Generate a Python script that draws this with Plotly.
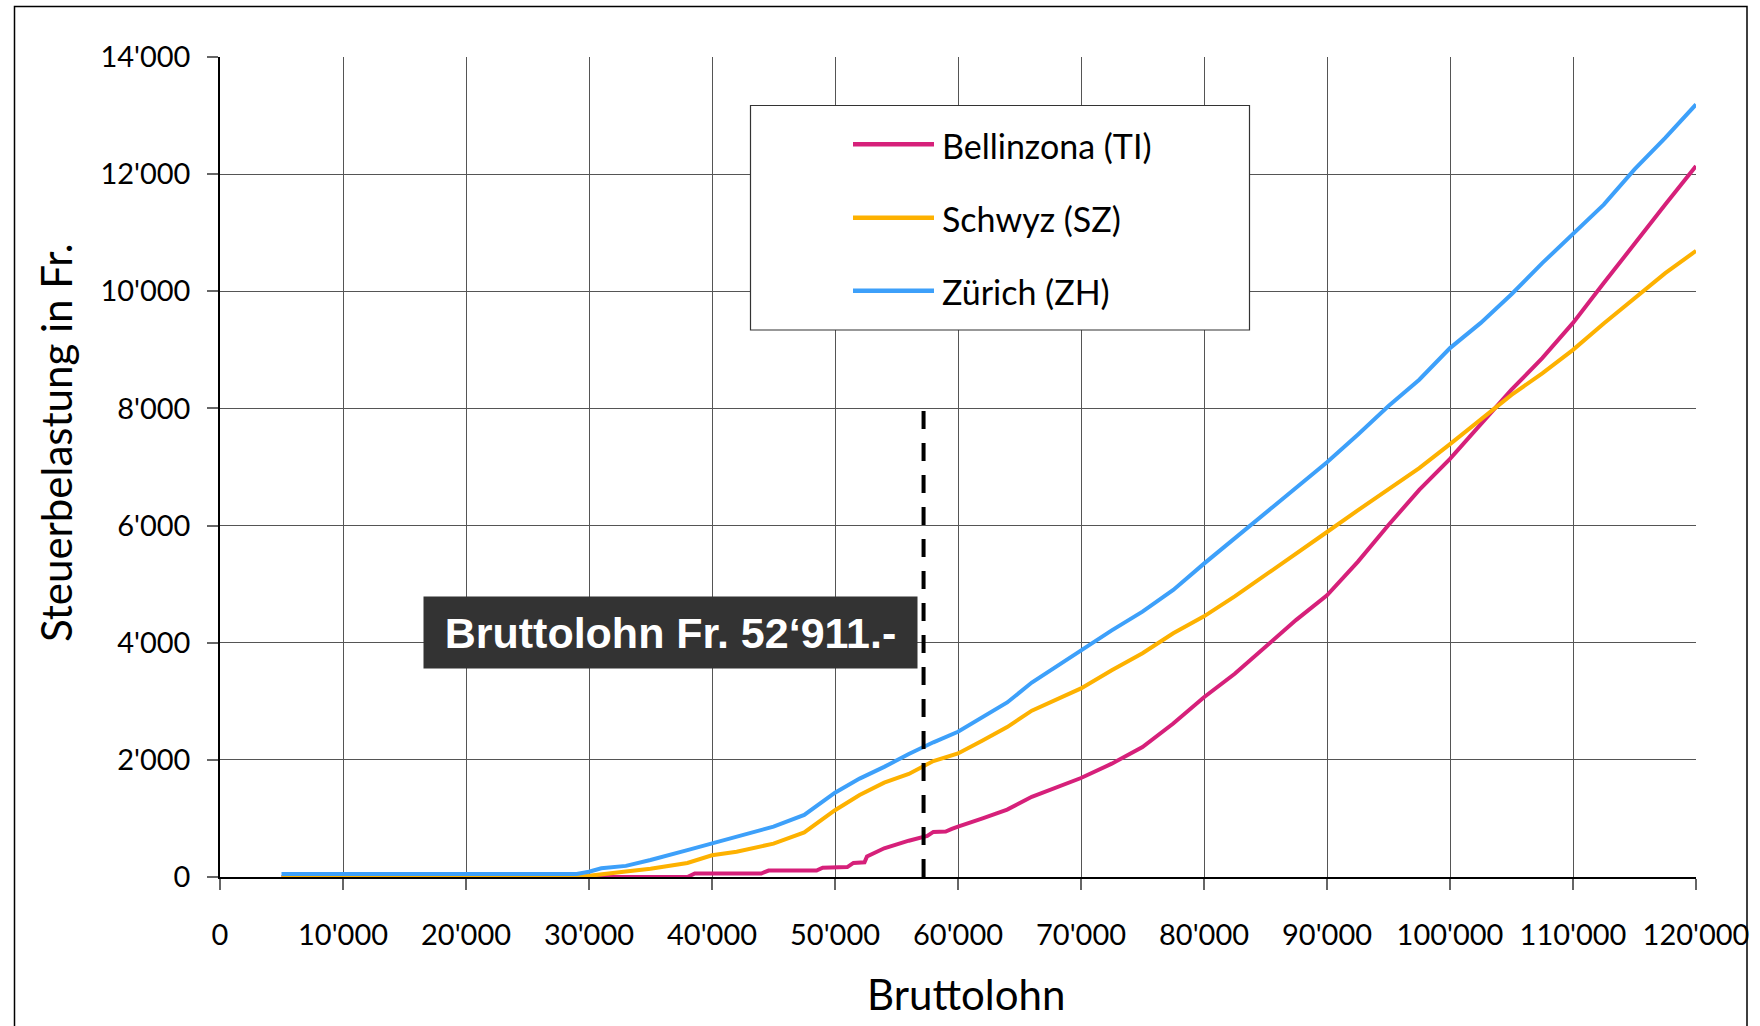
import plotly.graph_objects as go

# ---------------- data ----------------
series_names = ["Bellinzona (TI)", "Schwyz (SZ)", "Zürich (ZH)"]
series_colors = ["#D6207A", "#FDB100", "#3DA0FA"]

income_ti = [5000, 38000, 38600, 44000, 44600, 48500, 49000, 51000, 51500, 52400, 52600,
             54000, 56000, 57500, 58000, 59000, 59500, 60000, 62000, 64000, 66000, 68000,
             70000, 72500, 75000, 77500, 80000, 82500, 85000, 87500, 90000, 92500, 95000,
             97500, 100000, 102500, 105000, 107500, 110000, 112500, 115000, 117500, 120000]
tax_ti = [0, 0, 60, 60, 110, 110, 160, 170, 240, 250, 350,
          490, 620, 700, 770, 775, 820, 860, 1000, 1150, 1370, 1530,
          1690, 1935, 2220, 2620, 3070, 3470, 3930, 4390, 4810, 5380, 6010,
          6610, 7140, 7720, 8320, 8860, 9460, 10140, 10820, 11480, 12140]

income_sz_zh = [5000, 29000, 30000, 31000, 33000, 35000, 38000, 40000, 42000, 45000, 47500,
                50000, 52000, 54000, 56000, 58000, 60000, 62000, 64000, 66000, 68000, 70000,
                72500, 75000, 77500, 80000, 82500, 85000, 87500, 90000, 92500, 95000, 97500,
                100000, 102500, 105000, 107500, 110000, 112500, 115000, 117500, 120000]
tax_sz = [0, 0, 20, 50, 94, 140, 240, 370, 430, 570, 760,
          1140, 1400, 1610, 1760, 1980, 2110, 2330, 2560, 2840, 3030, 3220,
          3530, 3820, 4160, 4450, 4790, 5150, 5520, 5890, 6260, 6610, 6980,
          7390, 7800, 8230, 8600, 9000, 9450, 9880, 10310, 10690]
tax_zh = [50, 50, 90, 150, 190, 290, 460, 570, 690, 860, 1060,
          1440, 1680, 1880, 2100, 2300, 2480, 2730, 2980, 3320, 3600, 3870,
          4210, 4530, 4900, 5350, 5780, 6230, 6660, 7080, 7550, 8040, 8490,
          9030, 9460, 9950, 10480, 10970, 11480, 12080, 12620, 13190]

marker_income = [57200, 57200]
marker_tax = [0, 8150]
marker_label = "Bruttolohn Fr. 52‘911.-"

x_ticks = list(range(0, 120001, 10000))
y_ticks = list(range(0, 14001, 2000))

x_title = "Bruttolohn"
y_title = "Steuerbelastung in Fr."

# ---------------- figure ----------------
FONT = "Lato, 'Open Sans', sans-serif"
fig = go.Figure()

xs = [income_ti, income_sz_zh, income_sz_zh]
ys = [tax_ti, tax_sz, tax_zh]
for name, col, x, y in zip(series_names, series_colors, xs, ys):
    fig.add_trace(go.Scatter(x=x, y=y, mode="lines", name=name,
                             line=dict(color=col, width=4), showlegend=False))

fig.add_trace(go.Scatter(x=marker_income, y=marker_tax, mode="lines",
                         line=dict(color="black", width=4, dash="18px,14px"),
                         showlegend=False, hoverinfo="skip"))

axis_common = dict(
    showgrid=True, gridcolor="#555555", gridwidth=1,
    showline=True, linecolor="black", linewidth=1.5,
    ticks="outside", ticklen=11, tickcolor="#666666", tickwidth=1.5,
    tickfont=dict(family=FONT, size=29, color="black"),
    zeroline=False, tickformat=",d",
)
fig.update_xaxes(range=[0, 120000], tickvals=x_ticks, ticklabelstandoff=20, **axis_common)
fig.update_yaxes(range=[0, 14000], tickvals=y_ticks, ticklabelstandoff=11, **axis_common)

def px_x(p):
    return (p - 220) / 1476.0

def px_y(p):
    return (877 - p) / 820.0

shapes = []
# outer frame
shapes.append(dict(type="rect", xref="paper", yref="paper",
                   x0=px_x(14.5), x1=px_x(1747), y0=px_y(1040), y1=px_y(6.5),
                   line=dict(color="black", width=1.5), fillcolor="rgba(0,0,0,0)", layer="above"))
# legend box
shapes.append(dict(type="rect", xref="paper", yref="paper",
                   x0=px_x(750.5), x1=px_x(1249.5), y0=px_y(330), y1=px_y(105.5),
                   line=dict(color="#333333", width=1.2), fillcolor="white", layer="above"))
annotations = []
row_y = [144.3, 217.7, 290.7]
for name, col, ry in zip(series_names, series_colors, row_y):
    shapes.append(dict(type="line", xref="paper", yref="paper",
                       x0=px_x(853), x1=px_x(934), y0=px_y(ry), y1=px_y(ry),
                       line=dict(color=col, width=4.5), layer="above"))
    annotations.append(dict(xref="paper", yref="paper", x=px_x(940), y=px_y(ry + 1),
                            xanchor="left", yanchor="middle", showarrow=False,
                            text=name, font=dict(family=FONT, size=34, color="black")))

# annotation box
annotations.append(dict(xref="paper", yref="paper", x=px_x(670.5), y=px_y(632.5),
                        xanchor="center", yanchor="middle", showarrow=False,
                        text="<b>" + marker_label + "</b>", width=493, height=71,
                        borderpad=0, bgcolor="#333333", align="center", valign="middle",
                        font=dict(family="Liberation Sans, Arial, sans-serif", size=43, color="white")))
# axis titles
annotations.append(dict(xref="paper", yref="paper", x=px_x(965.5), y=px_y(994),
                        xanchor="center", yanchor="middle", showarrow=False,
                        text=x_title, font=dict(family=FONT, size=42, color="black")))
annotations.append(dict(xref="paper", yref="paper", x=px_x(56), y=px_y(443),
                        xanchor="center", yanchor="middle", showarrow=False, textangle=-90,
                        text=y_title, font=dict(family=FONT, size=42, color="black")))

fig.update_layout(width=1760, height=1026,
                  margin=dict(l=220, r=64, t=57, b=149),
                  paper_bgcolor="white", plot_bgcolor="white",
                  separators=".'", showlegend=False,
                  shapes=shapes, annotations=annotations)

fig.write_html("out.html", config={"displayModeBar": False},
               post_script="document.body.style.margin='0px';document.body.style.overflow='hidden';")
